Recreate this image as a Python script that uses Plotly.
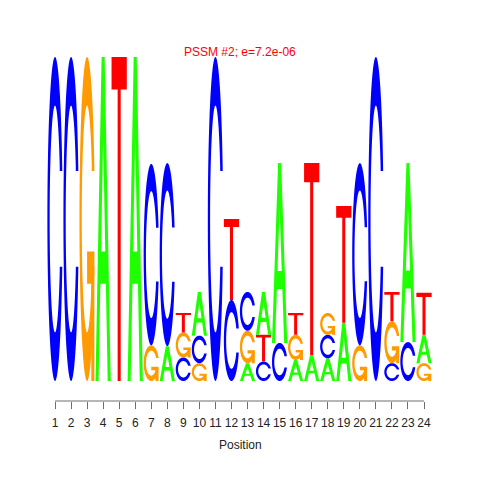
import numpy as np
import plotly.graph_objects as go

positions = list(range(1, 25))
tick_labels = [str(p) for p in positions]
# letter heights (bits) for each base at each position
A = [0, 0, 0, 2.0, 0, 2.0, 0, 0.215, 0, 0.27, 0, 0, 0.11, 0.265, 1.11, 0.13, 0.16, 0.14, 0.36, 0, 0, 0, 1.105, 0.175]
C = [2.0, 2.0, 0, 0, 0, 0, 1.12, 1.13, 0.145, 0.17, 2.0, 0.5, 0.24, 0.12, 0.235, 0, 0, 0.145, 0, 1.125, 2.0, 0.11, 0.24, 0]
G = [0, 0, 2.0, 0, 0, 0, 0.22, 0, 0.155, 0.11, 0, 0, 0.2, 0, 0, 0.155, 0, 0.135, 0, 0.22, 0, 0.26, 0, 0.11]
T = [0, 0, 0, 0, 2.0, 0, 0, 0, 0.12, 0, 0, 0.5, 0, 0.165, 0, 0.135, 1.185, 0, 0.72, 0, 0, 0.18, 0, 0.26]
# stacking order of letters, bottom -> top
stack_order = ["C", "C", "G", "A", "T", "A", "GC", "AC", "CGT", "GCA", "C", "CT", "AGC",
               "CTA", "CA", "AGT", "AT", "ACG", "AT", "GC", "C", "CGT", "CA", "GAT"]
title_text = "PSSM #2; e=7.2e-06"
x_title = "Position"

heights = {"A": A, "C": C, "G": G, "T": T}
colors = {"A": "#1EFF00", "C": "#0000FF", "G": "#FF9A00", "T": "#FF0000"}
GLYPH_W = 0.95

# ---------------- glyph outlines in a unit box ----------------
def _c_ring():
    a1 = np.linspace(0.3 + np.pi / 2, np.pi, 40)
    a2 = np.linspace(np.pi, 1.5 * np.pi, 40)
    xl = np.concatenate([0.5 + 0.5 * np.sin(a1), 0.5 + 0.5 * np.sin(a2)])
    yl = np.concatenate([0.5 + 0.5 * np.cos(a1), 0.5 + 0.5 * np.cos(a2)])
    xo = np.concatenate([xl, xl[::-1]])
    yo = np.concatenate([yl, 1 - yl[::-1]])
    ymax = (0.5 + 0.5 * np.cos(a1)).max()
    xi1 = 0.5 + 0.35 * np.sin(a1)
    yi1 = 0.5 + 0.35 * np.cos(a1)
    keep = yi1 <= ymax
    xi1 = xi1[keep]
    yi1 = yi1[keep].copy()
    yi1[0] = ymax
    xi = np.concatenate([xi1, 0.5 + 0.35 * np.sin(a2)])
    yi = np.concatenate([yi1, 0.5 + 0.35 * np.cos(a2)])
    xin = np.concatenate([xi, xi[::-1]])
    yin = np.concatenate([yi, 1 - yi[::-1]])
    return np.concatenate([xo, xin[::-1]]), np.concatenate([yo, yin[::-1]])

_cx, _cy = _c_ring()
_r1 = float((0.5 + 0.5 * np.sin(np.linspace(0.3 + np.pi / 2, np.pi, 40))).max())
GLYPHS = {
    "C": [[(_cx, _cy)]],
    "G": [[(_cx, _cy)],
          [(np.array([_r1, 0.5, 0.5, _r1 - 0.2, _r1 - 0.2, _r1]),
            np.array([0.4, 0.4, 0.3, 0.3, 0.0, 0.0]))]],
    "A": [[(np.array([0, 0.4, 0.6, 1.0, 0.8, 0.68, 0.32, 0.2]),
            np.array([0, 1.0, 1.0, 0, 0, 0.3, 0.3, 0])),
           (np.array([0.36, 0.64, 0.5]), np.array([0.4, 0.4, 0.75]))]],
    "T": [[(np.array([0, 1.0, 1.0, 0.6, 0.6, 0.4, 0.4, 0]),
            np.array([1.0, 1.0, 0.9, 0.9, 0, 0, 0.9, 0.9]))]],
}

def glyph_paths(letter, xc, y0, h):
    out = []
    for piece in GLYPHS[letter]:
        s = ""
        for ux, uy in piece:
            xs = xc - GLYPH_W / 2 + ux * GLYPH_W
            ys = y0 + uy * h
            pts = " L".join(f"{a:.4f},{b:.5f}" for a, b in zip(xs, ys))
            s += "M" + pts + " Z "
        out.append(s)
    return out

shapes = []
for i, p in enumerate(positions):
    base = 0.0
    for letter in stack_order[i]:
        h = heights[letter][i]
        if h <= 0:
            continue
        for path in glyph_paths(letter, p, base, h):
            shapes.append(dict(type="path", path=path, xref="x", yref="y",
                               fillcolor=colors[letter], line=dict(width=0), layer="above"))
        base += h

# axis line spanning first to last position (R style)
shapes.append(dict(type="line", xref="x", yref="paper", x0=positions[0], x1=positions[-1],
                   y0=0, y1=0, line=dict(color="#6e6e6e", width=1)))

fig = go.Figure()
fig.add_trace(go.Scatter(x=[positions[0], positions[-1]], y=[0, 0], mode="markers",
                         marker=dict(opacity=0), hoverinfo="skip", showlegend=False))

FONT = "Liberation Sans, Arial, Helvetica, sans-serif"
fig.update_layout(
    width=480, height=480,
    margin=dict(l=32, r=48, t=49, b=87),
    paper_bgcolor="white", plot_bgcolor="white",
    shapes=shapes,
    showlegend=False,
    font=dict(family=FONT, size=12, color="#222"),
    xaxis=dict(range=[0.065, 24.997], tickmode="array", tickvals=positions, ticktext=tick_labels,
               ticks="outside", ticklen=7, tickwidth=1, tickcolor="#6e6e6e",
               showline=False, showgrid=False, zeroline=False, ticklabelstandoff=4,
               tickfont=dict(family=FONT, size=12, color="#222")),
    yaxis=dict(range=[-0.1235, 2.0], visible=False, showgrid=False, zeroline=False),
    annotations=[
        dict(text=title_text, xref="paper", yref="paper", x=0.4988, y=1.0131,
             xanchor="center", yanchor="middle", showarrow=False,
             font=dict(family=FONT, size=12, color="#FF0000")),
        dict(text=x_title, xref="paper", yref="paper", x=0.5, y=-0.128,
             xanchor="center", yanchor="middle", showarrow=False,
             font=dict(family=FONT, size=12, color="#222")),
    ],
)

fig.write_html("out.html")
